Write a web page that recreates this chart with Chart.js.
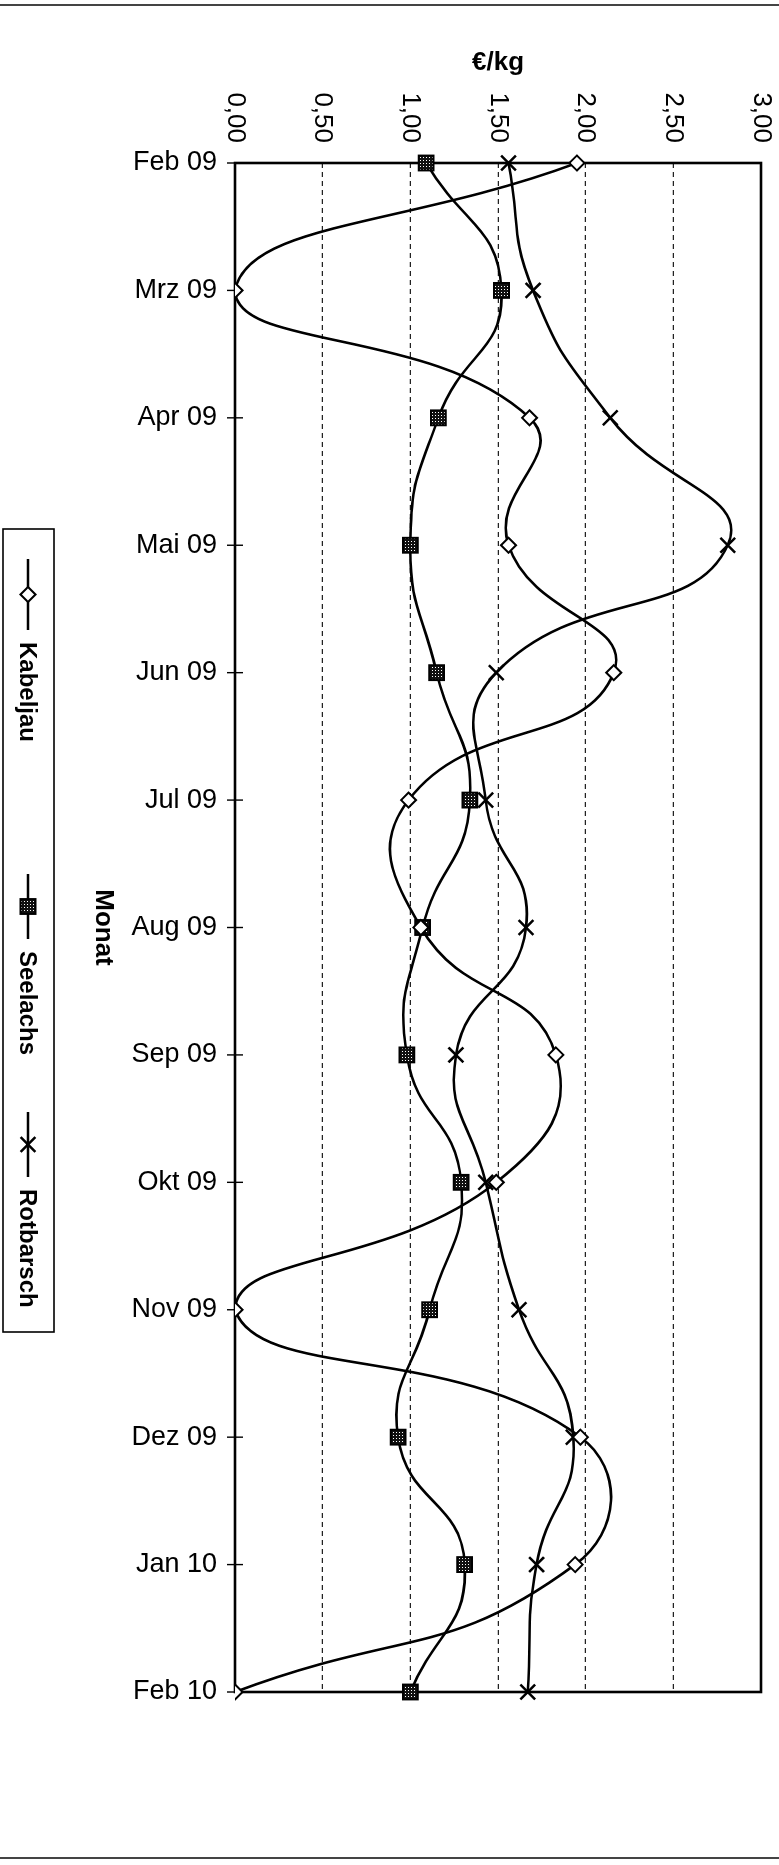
<!DOCTYPE html>
<html>
<head>
<meta charset="utf-8">
<script src="https://cdn.jsdelivr.net/npm/chart.js@4/dist/chart.umd.min.js"></script>
<style>
  html, body { margin: 0; padding: 0; background: #fff; overflow: hidden; }
  body { width: 779px; height: 1865px; position: relative; }
  #wrap {
    position: absolute; left: 0; top: 0;
    width: 1865px; height: 779px;
    transform-origin: 0 0;
    transform: translate(779px, 0) rotate(90deg);
  }
  canvas { display: block; }
</style>
</head>
<body>
<div id="wrap"><canvas id="c" width="1865" height="779" style="width:1865px;height:779px"></canvas></div>
<script>
// ---- data ----
const months = ['Feb 09','Mrz 09','Apr 09','Mai 09','Jun 09','Jul 09','Aug 09','Sep 09','Okt 09','Nov 09','Dez 09','Jan 10','Feb 10'];
const kabeljau  = [1.95, 0.00, 1.68, 1.56, 2.16, 0.99, 1.06, 1.83, 1.49, 0.00, 1.97, 1.94, 0.00];
const seelachs  = [1.09, 1.52, 1.16, 1.00, 1.15, 1.34, 1.07, 0.98, 1.29, 1.11, 0.93, 1.31, 1.00];
const rotbarsch = [1.56, 1.70, 2.14, 2.81, 1.49, 1.43, 1.66, 1.26, 1.43, 1.62, 1.93, 1.72, 1.67];
const seriesNames = ['Kabeljau', 'Seelachs', 'Rotbarsch'];
const valueTicks = [0, 0.5, 1, 1.5, 2, 2.5, 3];
const valueTitle = '€/kg';
const categoryTitle = 'Monat';

const FONT = "'Liberation Sans', Arial, Helvetica, sans-serif";
Chart.defaults.font.family = FONT;
Chart.defaults.color = '#000';

// speckled fill for the Seelachs squares
const pc = document.createElement('canvas');
pc.width = 3; pc.height = 3;
const pctx = pc.getContext('2d');
pctx.fillStyle = '#111'; pctx.fillRect(0, 0, 3, 3);
pctx.fillStyle = '#fff'; pctx.fillRect(1, 1, 1, 1);
const ctx = document.getElementById('c').getContext('2d');
const speckle = ctx.createPattern(pc, 'repeat');

const styles = [
  { pointStyle: 'rectRot', radius: 7.5, bg: '#fff', bw: 2 },
  { pointStyle: 'rect', radius: 10.5, bg: speckle, bw: 2 },
  { pointStyle: 'crossRot', radius: 10.5, bg: '#000', bw: 2.5 }
];
const seriesData = [kabeljau, seelachs, rotbarsch];

const datasets = seriesNames.map((n, i) => ({
  label: n,
  data: seriesData[i],
  borderColor: '#000',
  borderWidth: 2.6,
  tension: 0.5,
  fill: false,
  pointStyle: styles[i].pointStyle,
  pointRadius: styles[i].radius,
  pointHoverRadius: styles[i].radius,
  pointBackgroundColor: styles[i].bg,
  pointBorderColor: '#000',
  pointBorderWidth: styles[i].bw
}));

const framePlugin = {
  id: 'frame',
  beforeDraw(chart) {
    const c = chart.ctx;
    c.save(); c.fillStyle = '#fff'; c.fillRect(0, 0, chart.width, chart.height); c.restore();
  },
  beforeDatasetsDraw(chart) {
    const {left, right, top, bottom} = chart.chartArea;
    const c = chart.ctx;
    c.save();
    c.strokeStyle = '#000';
    c.lineWidth = 2.6;
    c.strokeRect(left, top, right - left, bottom - top);
    // category tick marks crossing the axis
    const xs = chart.scales.x;
    c.lineWidth = 1.4;
    for (let i = 0; i < months.length; i++) {
      const px = xs.getPixelForTick(i);
      c.beginPath(); c.moveTo(px, bottom - 8); c.lineTo(px, bottom + 8); c.stroke();
    }
    c.restore();
  },
  afterDraw(chart) {
    const c = chart.ctx;
    c.save();
    // legend box
    const L = 529, R = 1332, T = 725, B = 776, ym = 751;
    c.strokeStyle = '#000';
    c.lineWidth = 1.6;
    c.strokeRect(L, T, R - L, B - T);
    const items = [
      { x1: 559, x2: 630, tx: 642 },
      { x1: 874, x2: 939, tx: 951 },
      { x1: 1112, x2: 1177, tx: 1189 }
    ];
    items.forEach((it, i) => {
      c.strokeStyle = '#000';
      c.lineWidth = 2.6;
      c.beginPath(); c.moveTo(it.x1, ym); c.lineTo(it.x2, ym); c.stroke();
      c.fillStyle = styles[i].bg;
      c.strokeStyle = '#000';
      c.lineWidth = styles[i].bw;
      Chart.helpers.drawPoint(c, {
        pointStyle: styles[i].pointStyle, radius: styles[i].radius,
        rotation: 0, borderWidth: styles[i].bw
      }, (it.x1 + it.x2) / 2, ym);
      c.fillStyle = '#000';
      c.font = 'bold 24px ' + FONT;
      c.textBaseline = 'middle';
      c.textAlign = 'left';
      c.fillText(seriesNames[i], it.tx, ym + 1);
    });
    // page edges of the scanned sheet
    c.strokeStyle = '#444';
    c.lineWidth = 2;
    c.beginPath(); c.moveTo(5, 0); c.lineTo(5, 779); c.stroke();
    c.beginPath(); c.moveTo(1858, 0); c.lineTo(1858, 779); c.stroke();
    c.restore();
  }
};

new Chart(ctx, {
  type: 'line',
  data: { labels: months, datasets },
  options: {
    responsive: false,
    animation: false,
    devicePixelRatio: 1,
    layout: { padding: { left: 0, top: 18, right: 173, bottom: 0 } },
    plugins: { legend: { display: false }, tooltip: { enabled: false } },
    elements: { line: { capBezierPoints: true } },
    scales: {
      x: {
        type: 'category',
        offset: false,
        grid: { display: false },
        border: { display: false },
        ticks: {
          autoSkip: false, minRotation: 90, maxRotation: 90, padding: 10,
          font: { size: 27 }, color: '#000'
        },
        title: {
          display: true, text: categoryTitle, color: '#000',
          font: { size: 26, weight: 'bold' },
          padding: { top: 0, bottom: 88 }
        },
        afterFit(s) { s.height = 235; s.paddingLeft = 0; s.paddingRight = 0; }
      },
      y: {
        min: 0, max: 3,
        afterBuildTicks(s) { s.ticks = valueTicks.map(v => ({ value: v })); },
        grid: {
          drawTicks: false,
          color: (c) => (c.tick && (c.tick.value === 0 || c.tick.value === 3)) ? 'rgba(0,0,0,0)' : '#222',
          lineWidth: 1.2
        },
        border: { display: false, dash: [5, 4] },
        ticks: {
          padding: 20, font: { size: 26 }, color: '#000',
          callback: (v) => Number(v).toFixed(2).replace('.', ',')
        },
        title: {
          display: true, text: valueTitle, color: '#000',
          font: { size: 26, weight: 'bold' },
          padding: { top: 47, bottom: 0 }
        },
        afterFit(s) { s.width = 163; s.paddingTop = 0; s.paddingBottom = 0; }
      }
    }
  },
  plugins: [framePlugin]
});
</script>
</body>
</html>
